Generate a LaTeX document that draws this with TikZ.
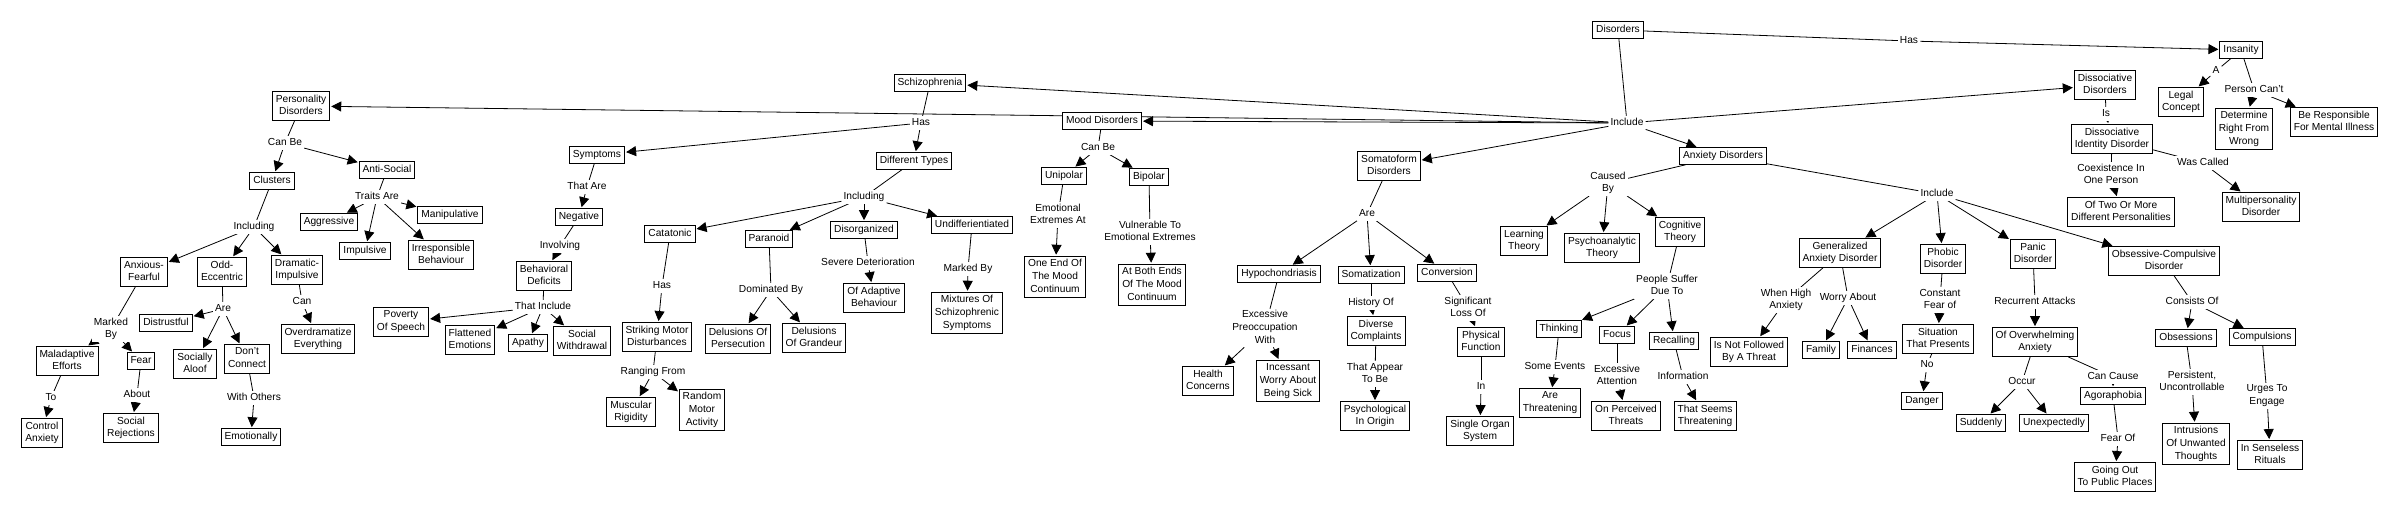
\documentclass[tikz,border=0pt]{standalone}
\usepackage{fontspec}
\setmainfont{Liberation Sans}
\usetikzlibrary{arrows.meta}
\pgfdeclarelayer{back}
\pgfdeclarelayer{bg}
\pgfsetlayers{back,bg,main}
\begin{document}
\begin{tikzpicture}[x=1pt,y=-1pt,
  every node/.style={font=\fontsize{10.2}{12.7}\selectfont, align=center},
  cbox/.style={draw, line width=1pt, fill=white, inner xsep=3.5pt, inner ysep=3.2pt,
    execute at begin node={\rule{0pt}{7.8pt}}, execute at end node={\rule[-2.4pt]{0pt}{2.4pt}}},
  clbl/.style={fill=white, inner xsep=2pt, inner ysep=1.5pt,
    execute at begin node={\rule{0pt}{7.8pt}}, execute at end node={\rule[-2.4pt]{0pt}{2.4pt}}},
  cline/.style={line width=0.8pt},
  carr/.style={line width=0.8pt, -{Triangle[length=10pt,width=10pt]}, shorten >=1pt},
]
\useasboundingbox (0,0) rectangle (2400,512);
\begin{pgfonlayer}{back}
\fill[white] (0,0) rectangle (2400,512);
\end{pgfonlayer}

% ---------- labels ----------
\node[clbl] (hasD) at (1909,41) {Has};
\node[clbl] (incD) at (1627,123) {Include};
\node[clbl] (canbeP) at (285,143) {Can Be};
\node[clbl] (including1) at (254,227) {Including};
\node[clbl] (traits) at (377,197) {Traits Are};
\node[clbl] (markedA) at (111,329) {Marked\\By};
\node[clbl] (toL) at (51,398) {To};
\node[clbl] (about) at (137,395) {About};
\node[clbl] (areO) at (223,309) {Are};
\node[clbl] (withO) at (254,398) {With Others};
\node[clbl] (canD) at (302,302) {Can};
\node[clbl] (hasS) at (921,123) {Has};
\node[clbl] (thatAre) at (587,187) {That Are};
\node[clbl] (involv) at (560,246) {Involving};
\node[clbl] (thatInc) at (543,307) {That Include};
\node[clbl] (including2) at (864,197) {Including};
\node[clbl] (hasC) at (662,286) {Has};
\node[clbl] (ranging) at (653,372) {Ranging From};
\node[clbl] (domBy) at (771,290) {Dominated By};
\node[clbl] (severe) at (868,263) {Severe Deterioration};
\node[clbl] (markedU) at (968,269) {Marked By};
\node[clbl] (canbeM) at (1098,148) {Can Be};
\node[clbl] (emoExt) at (1058,215) {Emotional\\Extremes At};
\node[clbl] (vuln) at (1150,232) {Vulnerable To\\Emotional Extremes};
\node[clbl] (areS) at (1367,214) {Are};
\node[clbl] (excPre) at (1265,328) {Excessive\\Preoccupation\\With};
\node[clbl] (histOf) at (1371,303) {History Of};
\node[clbl] (thatApp) at (1375,374) {That Appear\\To Be};
\node[clbl] (sigLoss) at (1468,308) {Significant\\Loss Of};
\node[clbl] (inL) at (1481,387) {In};
\node[clbl] (causedBy) at (1608,183) {Caused\\By};
\node[clbl] (people) at (1667,286) {People Suffer\\Due To};
\node[clbl] (someEv) at (1555,367) {Some Events};
\node[clbl] (excAtt) at (1617,376) {Excessive\\Attention};
\node[clbl] (inform) at (1683,377) {Information};
\node[clbl] (incA) at (1937,194) {Include};
\node[clbl] (whenHigh) at (1786,300) {When High\\Anxiety};
\node[clbl] (worryAb) at (1848,298) {Worry About};
\node[clbl] (constF) at (1940,300) {Constant\\Fear of};
\node[clbl] (noL) at (1927,365) {No};
\node[clbl] (recur) at (2035,302) {Recurrent Attacks};
\node[clbl] (occur) at (2022,382) {Occur};
\node[clbl] (canCause) at (2113,377) {Can Cause};
\node[clbl] (fearOf) at (2118,439) {Fear Of};
\node[clbl] (consists) at (2192,302) {Consists Of};
\node[clbl] (persist) at (2192,382) {Persistent,\\Uncontrollable};
\node[clbl] (urges) at (2267,396) {Urges To\\Engage};
\node[clbl] (isL) at (2106,114) {Is};
\node[clbl] (coex) at (2111,175) {Coexistence In\\One Person};
\node[clbl] (wasCalled) at (2203,163) {Was Called};
\node[clbl] (aL) at (2216,71) {A};
\node[clbl] (personCant) at (2254,90) {Person Can't};

% ---------- boxes ----------
\node[cbox] (Disorders) at (1618,30) {Disorders};
\node[cbox] (Insanity) at (2241,50) {Insanity};
\node[cbox] (Schizo) at (930,83) {Schizophrenia};
\node[cbox] (Mood) at (1102,121) {Mood Disorders};
\node[cbox] (PD) at (301,106) {Personality\\Disorders};
\node[cbox] (Somato) at (1389,166) {Somatoform\\Disorders};
\node[cbox] (Anx) at (1723,156) {Anxiety Disorders};
\node[cbox] (Dissoc) at (2105,85) {Dissociative\\Disorders};

\node[cbox] (Clusters) at (272,181) {Clusters};
\node[cbox] (AntiSocial) at (387,170) {Anti-Social};
\node[cbox] (AnxF) at (144,272) {Anxious-\\Fearful};
\node[cbox] (OddE) at (222,272) {Odd-\\Eccentric};
\node[cbox] (DramI) at (297,270) {Dramatic-\\Impulsive};
\node[cbox] (Aggr) at (329,222) {Aggressive};
\node[cbox] (Impul) at (365,251) {Impulsive};
\node[cbox] (Manip) at (450,215) {Manipulative};
\node[cbox] (Irresp) at (441,255) {Irresponsible\\Behaviour};
\node[cbox] (Malad) at (67,361) {Maladaptive\\Efforts};
\node[cbox] (Fear) at (141,361) {Fear};
\node[cbox] (CtrlA) at (42,433) {Control\\Anxiety};
\node[cbox] (SocRej) at (131,428) {Social\\Rejections};
\node[cbox] (Distr) at (166,323) {Distrustful};
\node[cbox] (SocAl) at (195,364) {Socially\\Aloof};
\node[cbox] (DontC) at (247,359) {Don't\\Connect};
\node[cbox] (Emot) at (251,437) {Emotionally};
\node[cbox] (Overd) at (318,339) {Overdramatize\\Everything};

\node[cbox] (Sympt) at (597,155) {Symptoms};
\node[cbox] (Neg) at (579,217) {Negative};
\node[cbox] (BehD) at (544,276) {Behavioral\\Deficits};
\node[cbox] (Pov) at (401,322) {Poverty\\Of Speech};
\node[cbox] (Flat) at (470,340) {Flattened\\Emotions};
\node[cbox] (Apathy) at (528,343) {Apathy};
\node[cbox] (SocW) at (582,341) {Social\\Withdrawal};
\node[cbox] (DiffT) at (914,161) {Different Types};
\node[cbox] (Cata) at (670,234) {Catatonic};
\node[cbox] (Para) at (769,239) {Paranoid};
\node[cbox] (Disorg) at (864,230) {Disorganized};
\node[cbox] (Undiff) at (972,225) {Undifferientiated};
\node[cbox] (SMD) at (657,337) {Striking Motor\\Disturbances};
\node[cbox] (MusR) at (631,412) {Muscular\\Rigidity};
\node[cbox] (RandM) at (702,410) {Random\\Motor\\Activity};
\node[cbox] (DelP) at (738,339) {Delusions Of\\Persecution};
\node[cbox] (DelG) at (814,338) {Delusions\\Of Grandeur};
\node[cbox] (OfAdapt) at (874,298) {Of Adaptive\\Behaviour};
\node[cbox] (Mixt) at (967,313) {Mixtures Of\\Schizophrenic\\Symptoms};

\node[cbox] (Unip) at (1064,176) {Unipolar};
\node[cbox] (Bip) at (1149,177) {Bipolar};
\node[cbox] (OneEnd) at (1055,277) {One End Of\\The Mood\\Continuum};
\node[cbox] (BothEnds) at (1152,285) {At Both Ends\\Of The Mood\\Continuum};

\node[cbox] (Hypo) at (1279,274) {Hypochondriasis};
\node[cbox] (Somz) at (1371,275) {Somatization};
\node[cbox] (Conv) at (1447,273) {Conversion};
\node[cbox] (Health) at (1208,381) {Health\\Concerns};
\node[cbox] (Incess) at (1288,381) {Incessant\\Worry About\\Being Sick};
\node[cbox] (Diverse) at (1376,331) {Diverse\\Complaints};
\node[cbox] (Psych) at (1375,416) {Psychological\\In Origin};
\node[cbox] (PhysF) at (1481,342) {Physical\\Function};
\node[cbox] (Single) at (1480,431) {Single Organ\\System};

\node[cbox] (Learn) at (1524,241) {Learning\\Theory};
\node[cbox] (PsyA) at (1602,248) {Psychoanalytic\\Theory};
\node[cbox] (Cogn) at (1680,232) {Cognitive\\Theory};
\node[cbox] (Think) at (1559,329) {Thinking};
\node[cbox] (Focus) at (1617,335) {Focus};
\node[cbox] (Recall) at (1674,341) {Recalling};
\node[cbox] (AreThr) at (1550,403) {Are\\Threatening};
\node[cbox] (OnPerc) at (1626,416) {On Perceived\\Threats};
\node[cbox] (ThatSeems) at (1705,416) {That Seems\\Threatening};

\node[cbox] (GAD) at (1840,253) {Generalized\\Anxiety Disorder};
\node[cbox] (NotFol) at (1749,352) {Is Not Followed\\By A Threat};
\node[cbox] (Family) at (1821,350) {Family};
\node[cbox] (Finances) at (1872,350) {Finances};
\node[cbox] (Phobic) at (1943,259) {Phobic\\Disorder};
\node[cbox] (Situation) at (1938,339) {Situation\\That Presents};
\node[cbox] (Danger) at (1922,401) {Danger};
\node[cbox] (Panic) at (2033,254) {Panic\\Disorder};
\node[cbox] (OfOver) at (2035,342) {Of Overwhelming\\Anxiety};
\node[cbox] (Sudden) at (1981,423) {Suddenly};
\node[cbox] (Unexp) at (2054,423) {Unexpectedly};
\node[cbox] (Agora) at (2113,396) {Agoraphobia};
\node[cbox] (GoingOut) at (2115,477) {Going Out\\To Public Places};
\node[cbox] (OCD) at (2164,261) {Obsessive-Compulsive\\Disorder};
\node[cbox] (Obsess) at (2186,338) {Obsessions};
\node[cbox] (Compul) at (2262,337) {Compulsions};
\node[cbox] (Intr) at (2196,444) {Intrusions\\Of Unwanted\\Thoughts};
\node[cbox] (Rituals) at (2270,455) {In Senseless\\Rituals};

\node[cbox] (DID) at (2112,139) {Dissociative\\Identity Disorder};
\node[cbox] (OfTwo) at (2121,212) {Of Two Or More\\Different Personalities};
\node[cbox] (Multi) at (2261,207) {Multipersonality\\Disorder};
\node[cbox] (Legal) at (2181,102) {Legal\\Concept};
\node[cbox] (Determine) at (2244,129) {Determine\\Right From\\Wrong};
\node[cbox] (BeResp) at (2334,122) {Be Responsible\\For Mental Illness};

% ---------- connectors ----------
\begin{pgfonlayer}{bg}
\foreach \a/\b in {Disorders/hasD, Disorders/incD, PD/canbeP, Clusters/including1,
  AntiSocial/traits, AnxF/markedA, Malad/toL, Fear/about, OddE/areO, DontC/withO,
  DramI/canD, Schizo/hasS, Sympt/thatAre, Neg/involv, BehD/thatInc, DiffT/including2,
  Cata/hasC, SMD/ranging, Para/domBy, Disorg/severe, Undiff/markedU, Mood/canbeM,
  Unip/emoExt, Bip/vuln, Somato/areS, Hypo/excPre, Somz/histOf, Diverse/thatApp,
  Conv/sigLoss, PhysF/inL, Anx/causedBy, Cogn/people, Think/someEv, Focus/excAtt,
  Recall/inform, Anx/incA, GAD/whenHigh, GAD/worryAb, Phobic/constF, Situation/noL,
  Panic/recur, OfOver/occur, OfOver/canCause, Agora/fearOf, OCD/consists,
  Obsess/persist, Compul/urges, Dissoc/isL, DID/coex, DID/wasCalled,
  Insanity/aL, Insanity/personCant}
  \draw[cline] (\a) -- (\b);
\foreach \a/\b in {hasD/Insanity, incD/Schizo, incD/Mood, incD/PD, incD/Somato,
  incD/Anx, incD/Dissoc, canbeP/Clusters, canbeP/AntiSocial,
  including1/AnxF, including1/OddE, including1/DramI,
  traits/Aggr, traits/Impul, traits/Manip, traits/Irresp,
  markedA/Malad, markedA/Fear, toL/CtrlA, about/SocRej,
  areO/Distr, areO/SocAl, areO/DontC, withO/Emot, canD/Overd,
  hasS/Sympt, hasS/DiffT, thatAre/Neg, involv/BehD,
  thatInc/Pov, thatInc/Flat, thatInc/Apathy, thatInc/SocW,
  including2/Cata, including2/Para, including2/Disorg, including2/Undiff,
  hasC/SMD, ranging/MusR, ranging/RandM, domBy/DelP, domBy/DelG,
  severe/OfAdapt, markedU/Mixt, canbeM/Unip, canbeM/Bip,
  emoExt/OneEnd, vuln/BothEnds,
  areS/Hypo, areS/Somz, areS/Conv, excPre/Health, excPre/Incess,
  histOf/Diverse, thatApp/Psych, sigLoss/PhysF, inL/Single,
  causedBy/Learn, causedBy/PsyA, causedBy/Cogn,
  people/Think, people/Focus, people/Recall,
  someEv/AreThr, excAtt/OnPerc, inform/ThatSeems,
  incA/GAD, incA/Phobic, incA/Panic, incA/OCD,
  whenHigh/NotFol, worryAb/Family, worryAb/Finances,
  constF/Situation, noL/Danger, recur/OfOver, occur/Sudden, occur/Unexp,
  canCause/Agora, fearOf/GoingOut, consists/Obsess, consists/Compul,
  persist/Intr, urges/Rituals, isL/DID, coex/OfTwo, wasCalled/Multi,
  aL/Legal, personCant/Determine, personCant/BeResp}
  \draw[carr] (\a) -- (\b);
\end{pgfonlayer}
\end{tikzpicture}
\end{document}
